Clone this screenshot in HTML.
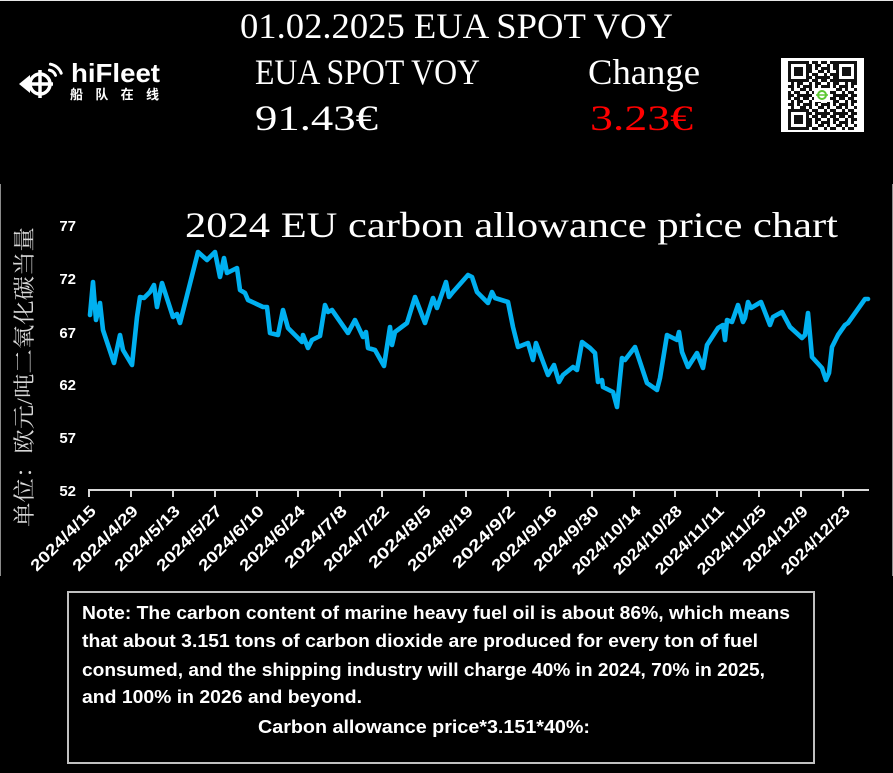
<!DOCTYPE html>
<html><head><meta charset="utf-8"><style>
html,body{margin:0;padding:0;background:#000;}
svg{display:block;}
</style></head><body>
<svg width="893" height="773" viewBox="0 0 893 773" xmlns="http://www.w3.org/2000/svg">
<defs>
<pattern id="qrp" x="788" y="61" width="18" height="18" patternUnits="userSpaceOnUse">
<rect x="0" y="0" width="3" height="3" fill="#111"/><rect x="6" y="0" width="6" height="3" fill="#111"/><rect x="15" y="0" width="3" height="3" fill="#111"/>
<rect x="3" y="3" width="3" height="3" fill="#111"/><rect x="9" y="3" width="3" height="6" fill="#111"/><rect x="12" y="3" width="3" height="3" fill="#111"/>
<rect x="0" y="6" width="6" height="3" fill="#111"/><rect x="15" y="6" width="3" height="6" fill="#111"/>
<rect x="3" y="9" width="3" height="3" fill="#111"/><rect x="6" y="12" width="6" height="3" fill="#111"/><rect x="12" y="9" width="3" height="3" fill="#111"/>
<rect x="0" y="12" width="3" height="6" fill="#111"/><rect x="9" y="15" width="6" height="3" fill="#111"/><rect x="15" y="15" width="3" height="3" fill="#111"/>
<rect x="3" y="15" width="3" height="3" fill="#111"/>
</pattern>
</defs>
<rect x="0" y="0" width="893" height="773" fill="#000"/>
<rect x="0" y="0" width="893" height="1" fill="#e6e6e6"/>
<rect x="0" y="184" width="1" height="392" fill="#8a8a8a"/>
<rect x="892" y="184" width="1" height="392" fill="#8a8a8a"/>

<!-- Logo -->
<g stroke="#fff" fill="none" stroke-width="3.5">
<circle cx="40" cy="84" r="10"/>
<line x1="40" y1="70" x2="40" y2="98"/>
<line x1="27" y1="84" x2="53" y2="84"/>
</g>
<polygon points="19,84 30,75 30,93" fill="#fff"/>
<g stroke="#fff" fill="none" stroke-width="3" stroke-linecap="round">
<path d="M49.4 70.1 A8 8 0 0 1 55.5 75.3"/>
<path d="M50.4 64.2 A14 14 0 0 1 61.2 73.2"/>
</g>
<text x="71" y="82" font-family="Liberation Sans, sans-serif" font-weight="bold" font-size="26" fill="#fff" textLength="89" lengthAdjust="spacingAndGlyphs">hiFleet</text>
<text x="70" y="99" font-family="Liberation Sans, 'Noto Sans CJK SC', sans-serif" font-weight="bold" font-size="13" fill="#fff" textLength="89" lengthAdjust="spacing">船队在线</text>

<!-- Header texts -->
<g font-family="Liberation Serif, serif" font-size="36" fill="#fff">
<text x="240" y="38" textLength="433" lengthAdjust="spacingAndGlyphs">01.02.2025 EUA SPOT VOY</text>
<text x="255" y="84" textLength="225" lengthAdjust="spacingAndGlyphs">EUA SPOT VOY</text>
<text x="588" y="84" textLength="112" lengthAdjust="spacingAndGlyphs">Change</text>
<text x="255" y="130" textLength="123" lengthAdjust="spacingAndGlyphs">91.43€</text>
<text x="590" y="130" textLength="103" lengthAdjust="spacingAndGlyphs" fill="#ff0000">3.23€</text>
</g>

<!-- QR code -->
<rect x="781" y="58" width="83" height="74" fill="#fff"/>
<rect x="788" y="61" width="69" height="69" fill="url(#qrp)"/>
<g>
<rect x="788" y="61" width="21" height="21" fill="#fff"/>
<rect x="789.5" y="62.5" width="18" height="18" fill="none" stroke="#111" stroke-width="3"/>
<rect x="794" y="67" width="9" height="9" fill="#111"/>
<rect x="836" y="61" width="21" height="21" fill="#fff"/>
<rect x="837.5" y="62.5" width="18" height="18" fill="none" stroke="#111" stroke-width="3"/>
<rect x="842" y="67" width="9" height="9" fill="#111"/>
<rect x="788" y="109" width="21" height="21" fill="#fff"/>
<rect x="789.5" y="110.5" width="18" height="18" fill="none" stroke="#111" stroke-width="3"/>
<rect x="794" y="115" width="9" height="9" fill="#111"/>
<rect x="814" y="88" width="16" height="14" fill="#fff"/>
<circle cx="822" cy="95" r="4" fill="none" stroke="#5cc832" stroke-width="2"/>
<line x1="816" y1="95" x2="828" y2="95" stroke="#5cc832" stroke-width="1.5"/>
</g>

<!-- Chart title -->
<text x="185" y="237" font-family="Liberation Serif, serif" font-size="36" fill="#fff" textLength="653" lengthAdjust="spacingAndGlyphs">2024 EU carbon allowance price chart</text>

<!-- Y axis label -->
<text transform="translate(32,377) rotate(-90)" text-anchor="middle" font-family="Liberation Serif, 'Noto Serif CJK SC', serif" font-size="22" fill="#d8d8d8" textLength="300" lengthAdjust="spacingAndGlyphs">单位：欧元/吨二氧化碳当量</text>

<!-- Y tick labels -->
<g font-family="Liberation Sans, sans-serif" font-weight="bold" font-size="15" fill="#fff" text-anchor="end">
<text x="76" y="231">77</text>
<text x="76" y="284">72</text>
<text x="76" y="338">67</text>
<text x="76" y="390">62</text>
<text x="76" y="443">57</text>
<text x="76" y="496">52</text>
</g>

<!-- X axis -->
<line x1="88" y1="490" x2="869" y2="490" stroke="#d9d9d9" stroke-width="2"/>
<g stroke="#d9d9d9" stroke-width="2">
<line x1="89" y1="490" x2="89" y2="497"/><line x1="131" y1="490" x2="131" y2="497"/><line x1="173" y1="490" x2="173" y2="497"/><line x1="215" y1="490" x2="215" y2="497"/><line x1="257" y1="490" x2="257" y2="497"/><line x1="298" y1="490" x2="298" y2="497"/><line x1="340" y1="490" x2="340" y2="497"/><line x1="382" y1="490" x2="382" y2="497"/><line x1="424" y1="490" x2="424" y2="497"/><line x1="466" y1="490" x2="466" y2="497"/><line x1="508" y1="490" x2="508" y2="497"/><line x1="550" y1="490" x2="550" y2="497"/><line x1="592" y1="490" x2="592" y2="497"/><line x1="634" y1="490" x2="634" y2="497"/><line x1="675" y1="490" x2="675" y2="497"/><line x1="717" y1="490" x2="717" y2="497"/><line x1="759" y1="490" x2="759" y2="497"/><line x1="801" y1="490" x2="801" y2="497"/><line x1="843" y1="490" x2="843" y2="497"/>
</g>
<g font-family="Liberation Sans, sans-serif" font-weight="bold" font-size="16" fill="#fff" text-anchor="end">
<text transform="translate(97,512) rotate(-45)" textLength="85" lengthAdjust="spacingAndGlyphs">2024/4/15</text>
<text transform="translate(139,512) rotate(-45)" textLength="85" lengthAdjust="spacingAndGlyphs">2024/4/29</text>
<text transform="translate(181,512) rotate(-45)" textLength="85" lengthAdjust="spacingAndGlyphs">2024/5/13</text>
<text transform="translate(223,512) rotate(-45)" textLength="85" lengthAdjust="spacingAndGlyphs">2024/5/27</text>
<text transform="translate(265,512) rotate(-45)" textLength="85" lengthAdjust="spacingAndGlyphs">2024/6/10</text>
<text transform="translate(306,512) rotate(-45)" textLength="85" lengthAdjust="spacingAndGlyphs">2024/6/24</text>
<text transform="translate(348,512) rotate(-45)" textLength="81" lengthAdjust="spacingAndGlyphs">2024/7/8</text>
<text transform="translate(390,512) rotate(-45)" textLength="85" lengthAdjust="spacingAndGlyphs">2024/7/22</text>
<text transform="translate(432,512) rotate(-45)" textLength="81" lengthAdjust="spacingAndGlyphs">2024/8/5</text>
<text transform="translate(474,512) rotate(-45)" textLength="85" lengthAdjust="spacingAndGlyphs">2024/8/19</text>
<text transform="translate(516,512) rotate(-45)" textLength="81" lengthAdjust="spacingAndGlyphs">2024/9/2</text>
<text transform="translate(558,512) rotate(-45)" textLength="85" lengthAdjust="spacingAndGlyphs">2024/9/16</text>
<text transform="translate(600,512) rotate(-45)" textLength="85" lengthAdjust="spacingAndGlyphs">2024/9/30</text>
<text transform="translate(642,512) rotate(-45)" textLength="90" lengthAdjust="spacingAndGlyphs">2024/10/14</text>
<text transform="translate(683,512) rotate(-45)" textLength="90" lengthAdjust="spacingAndGlyphs">2024/10/28</text>
<text transform="translate(725,512) rotate(-45)" textLength="90" lengthAdjust="spacingAndGlyphs">2024/11/11</text>
<text transform="translate(767,512) rotate(-45)" textLength="90" lengthAdjust="spacingAndGlyphs">2024/11/25</text>
<text transform="translate(809,512) rotate(-45)" textLength="85" lengthAdjust="spacingAndGlyphs">2024/12/9</text>
<text transform="translate(851,512) rotate(-45)" textLength="90" lengthAdjust="spacingAndGlyphs">2024/12/23</text>
</g>

<!-- Data line -->
<polyline fill="none" stroke="#00b0f0" stroke-width="4.6" stroke-linejoin="round" stroke-linecap="round"
points="90,315 93,282 96,320 100,303 103,330 114,363 120,335 123,350 132,365 137,317 140,297 144,298 150,292 154,285 157,307 162,283 173,317 177,314 180,323 198,252 207,260 215,252 220,277 224,258 227,273 237,268 240,290 245,293 248,300 263,307 267,307 270,333 278,335 283,310 288,328 302,342 303,335 308,348 312,340 320,336 325,305 328,312 332,310 348,333 355,320 363,337 366,332 368,348 375,350 384,366 390,327 392,345 395,332 407,323 415,297 425,323 433,298 437,308 446,282 449,297 453,292 468,275 472,277 477,292 488,303 492,292 495,298 508,302 513,327 518,347 528,343 533,360 536,343 548,375 554,365 559,382 563,375 573,367 577,370 582,342 590,348 595,353 598,382 602,380 603,387 613,392 617,407 622,358 625,360 635,347 647,383 657,390 660,378 667,335 677,340 679,332 682,352 688,367 697,353 703,368 707,345 718,328 723,325 725,340 727,320 732,322 738,305 743,322 745,318 748,302 751,308 761,302 770,325 773,317 782,312 790,327 802,338 805,335 808,313 812,357 822,368 826,380 829,373 832,347 838,335 845,325 848,323 865,299 868,299"/>

<!-- Note box -->
<rect x="68" y="592" width="746" height="171" fill="none" stroke="#c0c0c0" stroke-width="2"/>
<g font-family="Liberation Sans, sans-serif" font-weight="bold" font-size="18" fill="#fff">
<text x="82" y="619" textLength="708" lengthAdjust="spacingAndGlyphs">Note: The carbon content of marine heavy fuel oil is about 86%, which means</text>
<text x="82" y="647" textLength="676" lengthAdjust="spacingAndGlyphs">that about 3.151 tons of carbon dioxide are produced for every ton of fuel</text>
<text x="82" y="676" textLength="683" lengthAdjust="spacingAndGlyphs">consumed, and the shipping industry will charge 40% in 2024, 70% in 2025,</text>
<text x="82" y="703" textLength="280" lengthAdjust="spacingAndGlyphs">and 100% in 2026 and beyond.</text>
<text x="258" y="733" textLength="332" lengthAdjust="spacingAndGlyphs">Carbon allowance price*3.151*40%:</text>
</g>
</svg>
</body></html>
